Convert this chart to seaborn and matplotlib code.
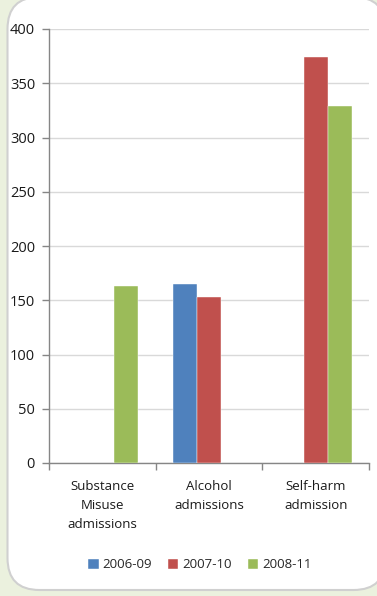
import numpy as np
import pandas as pd
import seaborn as sns
import matplotlib.pyplot as plt
from matplotlib.patches import FancyBboxPatch
from matplotlib.transforms import IdentityTransform

categories = ["Substance\nMisuse\nadmissions", "Alcohol\nadmissions", "Self-harm\nadmission"]
periods = ["2006-09", "2007-10", "2008-11"]
values_2006_09 = [np.nan, 165, np.nan]
values_2007_10 = [np.nan, 153, 374]
values_2008_11 = [163, np.nan, 329]
y_ticks = [0, 50, 100, 150, 200, 250, 300, 350, 400]

colors = ["#4F81BD", "#C0504D", "#9BBB59"]

rows = []
for period, vals in zip(periods, [values_2006_09, values_2007_10, values_2008_11]):
    for cat, v in zip(categories, vals):
        rows.append({"category": cat, "period": period, "value": v})
df = pd.DataFrame(rows)

sns.set_theme(style="white")
plt.rcParams["font.family"] = ["Open Sans", "DejaVu Sans"]

fig = plt.figure(figsize=(3.77, 5.96), dpi=100)
fig.patch.set_facecolor("#EBF1DE")

# rounded white chart frame with a soft grey edge (display pixels)
frame = FancyBboxPatch((7.5, 6), 378, 593,
                       boxstyle="round,pad=0,rounding_size=32",
                       transform=IdentityTransform(), facecolor="white",
                       edgecolor="#D0D0D0", linewidth=1.5, zorder=-5)
fig.patches.append(frame)

ax = fig.add_axes([49 / 377, 1 - 463 / 596, 320 / 377, 434 / 596])
ax.set_facecolor("none")
ax.set_zorder(2)

sns.barplot(data=df, x="category", y="value", hue="period",
            order=categories, hue_order=periods, palette=colors,
            errorbar=None, saturation=1, width=0.675, ax=ax,
            edgecolor="white", linewidth=0.3, zorder=3)

ax.set_ylim(0, 400)
ax.set_xlim(-0.5, 2.5)
ax.set_yticks(y_ticks)
ax.yaxis.grid(True, color="#D9D9D9", linewidth=1, zorder=0)
ax.set_axisbelow(True)

for s in ["top", "right"]:
    ax.spines[s].set_visible(False)
for s in ["left", "bottom"]:
    ax.spines[s].set_color("#868686")
    ax.spines[s].set_linewidth(1)

ax.tick_params(axis="y", which="major", left=True, length=5, width=1,
               color="#868686", labelsize=10.5, labelcolor="#1a1a1a", pad=5)
ax.tick_params(axis="x", which="major", bottom=False, labelsize=9.5,
               labelcolor="#1a1a1a", pad=6)
ax.set_xticks([-0.5, 0.5, 1.5, 2.5], minor=True)
ax.tick_params(axis="x", which="minor", bottom=True, length=5, width=1,
               color="#868686")
for lbl in ax.get_xticklabels():
    lbl.set_linespacing(1.6)

ax.set_xlabel("")
ax.set_ylabel("")

handles, labels = ax.get_legend_handles_labels()
ax.legend_.remove()
fig.legend(handles, labels, loc="center", bbox_to_anchor=(0.53, 1 - 565 / 596),
           ncol=3, frameon=False, fontsize=9.5, handlelength=0.8,
           handleheight=0.8, handletextpad=0.3, columnspacing=1.2)

fig.savefig("out.png", dpi=100)
